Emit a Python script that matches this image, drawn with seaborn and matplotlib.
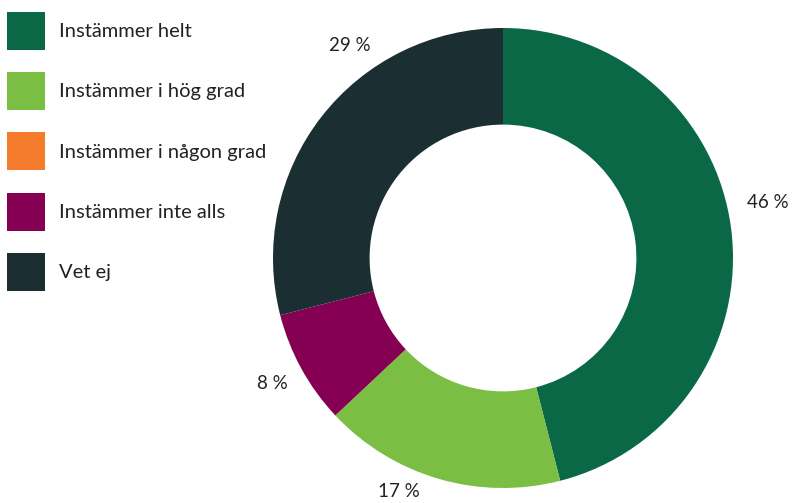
import matplotlib
matplotlib.use("Agg")
import matplotlib.pyplot as plt
import seaborn as sns
import numpy as np

categories = ["Instämmer helt", "Instämmer i hög grad", "Instämmer i någon grad",
              "Instämmer inte alls", "Vet ej"]
values = [46, 17, 0, 8, 29]
colors = ["#0a6846", "#7abf43", "#f47c2c", "#850052", "#1b2e32"]

sns.set_theme(style="white")
plt.rcParams["font.family"] = ["Lato", "DejaVu Sans"]
palette = sns.color_palette(colors)

fig = plt.figure(figsize=(7.92, 5.03), dpi=100)
ax = fig.add_axes([(503 - 230) / 792, (245 - 230) / 503, 460 / 792, 460 / 503])

labels = [f"{v} %" if v > 0 else "" for v in values]
wedges, texts = ax.pie(values, colors=palette, startangle=90, counterclock=False,
                       radius=1.0, wedgeprops=dict(width=0.42, edgecolor="none"),
                       labels=labels, labeldistance=1.15,
                       textprops=dict(fontsize=13.5, color="#222222"))

# label placement (angle nudges / radial distance), like the original's layout
label_angle_nudge = [4.7, -7.8, 0.0, -0.2, -16.5]
label_radius = [1.178, 1.113, 1.15, 1.143, 1.14]
for w, t, dn, r in zip(wedges, texts, label_angle_nudge, label_radius):
    mid = np.deg2rad((w.theta1 + w.theta2) / 2 + dn)
    t.set_position((r * np.cos(mid), r * np.sin(mid)))
    t.set_horizontalalignment("center")
    t.set_verticalalignment("center")

ax.set_xlim(-1, 1)
ax.set_ylim(-1, 1)
ax.set_aspect("equal")
ax.axis("off")

fs = 14.5
fig.legend(wedges, categories, loc="upper left",
           bbox_to_anchor=(7 / 792, 1 - 12 / 503), frameon=False,
           fontsize=fs, handlelength=1.89, handleheight=2.53,
           labelspacing=1.1, handletextpad=0.7, borderpad=0, borderaxespad=0,
           labelcolor="#222222")

fig.savefig("out.png", dpi=100)
